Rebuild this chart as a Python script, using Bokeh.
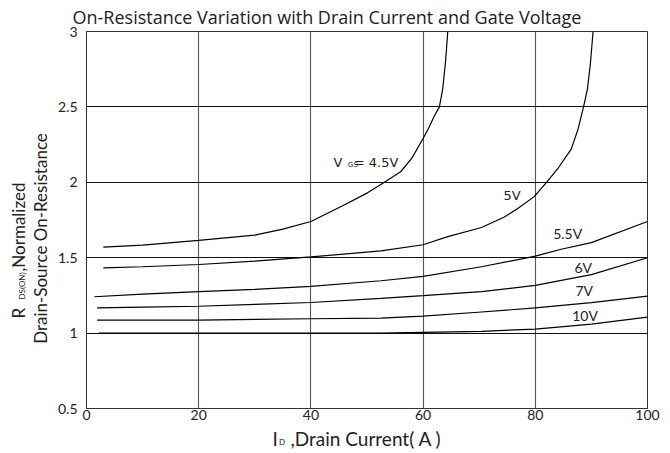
import math
from bokeh.plotting import figure
from bokeh.layouts import row, column
from bokeh.models import Label, FixedTicker, CustomJSTickFormatter, Range1d
from bokeh.embed import file_html
from bokeh.resources import INLINE

# ---- data ----
x_ticks = [0, 20, 40, 60, 80, 100]
y_ticks = [0.5, 1, 1.5, 2, 2.5, 3]

id_45 = [3, 10, 20, 30, 35, 40, 45.4, 50.1, 53.1, 56, 58, 60, 61, 62, 62.9, 63.5, 64.0, 64.4]
r_45 = [1.57, 1.583, 1.615, 1.65, 1.69, 1.74, 1.84, 1.93, 2.0, 2.07, 2.16, 2.29, 2.36, 2.44, 2.5, 2.62, 2.8, 3.0]

id_5 = [3, 10, 20, 30, 40, 52.5, 60, 64.4, 70.4, 74.5, 77, 79.8, 82, 84, 86.4, 87.6, 88.6, 89.3, 89.8, 90.3]
r_5 = [1.432, 1.44, 1.455, 1.477, 1.505, 1.545, 1.586, 1.64, 1.70, 1.77, 1.83, 1.905, 2.0, 2.09, 2.22, 2.35, 2.5, 2.62, 2.78, 3.0]

id_55 = [1.4, 10, 20, 30, 40, 52.5, 60, 70.4, 80, 84.6, 90, 100]
r_55 = [1.241, 1.258, 1.275, 1.29, 1.31, 1.347, 1.376, 1.44, 1.51, 1.556, 1.60, 1.74]

id_6 = [1.9, 10, 20, 30, 40, 52.5, 60, 70.4, 80, 90, 100]
r_6 = [1.167, 1.172, 1.178, 1.19, 1.203, 1.23, 1.248, 1.275, 1.316, 1.388, 1.5]

id_7 = [1.9, 20, 40, 52.5, 60, 70.4, 80, 90, 100]
r_7 = [1.086, 1.086, 1.095, 1.099, 1.113, 1.14, 1.167, 1.202, 1.245]

id_10 = [2.2, 20, 40, 52.5, 60, 70.4, 80, 90, 100]
r_10 = [1.0, 1.0, 1.0, 1.0, 1.005, 1.012, 1.027, 1.06, 1.106]

series_x = [id_45, id_5, id_55, id_6, id_7, id_10]
series_y = [r_45, r_5, r_55, r_6, r_7, r_10]

title_text = "On-Resistance Variation with Drain Current and Gate Voltage"

TXT = "#222222"

# ---- main figure ----
p = figure(width=610, height=426,
           x_range=Range1d(0, 100), y_range=Range1d(0.5, 3),
           output_backend="svg", toolbar_location=None,
           min_border_left=34, min_border_right=15,
           min_border_top=31, min_border_bottom=18)
p.background_fill_color = "white"
p.border_fill_color = "white"
p.outline_line_color = "#333333"
p.outline_line_width = 1

p.title.text = title_text
p.title.text_font = "Open Sans"
p.title.text_font_size = "18px"
p.title.text_font_style = "normal"
p.title.text_color = TXT
p.title.align = "left"
p.title.offset = -14
p.title.standoff = 2
p.title.vertical_align = "top"

p.xaxis.ticker = FixedTicker(ticks=x_ticks)
p.yaxis.ticker = FixedTicker(ticks=y_ticks)
p.yaxis.formatter = CustomJSTickFormatter(code="return String(tick)")
p.xaxis.formatter = CustomJSTickFormatter(code="return String(tick)")
for ax in (p.xaxis, p.yaxis):
    ax.major_tick_line_color = None
    ax.minor_tick_line_color = None
    ax.major_tick_out = 0
    ax.major_tick_in = 0
    ax.minor_tick_out = 0
    ax.minor_tick_in = 0
    ax.axis_line_color = "#333333"
    ax.major_label_text_font = "Lato"
    ax.major_label_text_font_size = "14px"
    ax.major_label_text_color = TXT
p.xaxis.major_label_standoff = 1
p.yaxis.major_label_standoff = 9

p.xgrid.grid_line_color = "#555555"
p.xgrid.grid_line_width = 1.1
p.ygrid.grid_line_color = "#111111"
p.ygrid.grid_line_width = 1

for xs, ys in zip(series_x, series_y):
    p.line(xs, ys, line_color="black", line_width=1.2)

def lab(fig, x, y, text, font="Lato", size="14px", align="left", baseline="middle", angle=0.0):
    fig.add_layout(Label(x=x, y=y, x_units="screen", y_units="screen", text=text,
                         text_font=font, text_font_size=size, text_align=align,
                         text_baseline=baseline, angle=angle, text_color=TXT))

# curve labels
lab(p, 247, 246.3, "V", font="DejaVu Sans", size="13px")
lab(p, 261.5, 243.5, "GS", font="DejaVu Sans", size="7px")
lab(p, 267.3, 246.3, "= 4.5V", font="DejaVu Sans", size="13px")
lab(p, 417, 213, "5V", font="DejaVu Sans", size="13px")
lab(p, 466.7, 175, "5.5V")
lab(p, 488, 141.3, "6V")
lab(p, 489, 118, "7V")
lab(p, 485.7, 93, "10V")

def blank(w, h):
    f = figure(width=w, height=h, x_range=Range1d(0, 1), y_range=Range1d(0, 1),
               output_backend="svg", toolbar_location=None,
               x_axis_type=None, y_axis_type=None, min_border=0)
    f.grid.visible = False
    f.outline_line_color = None
    f.background_fill_color = "white"
    f.border_fill_color = "white"
    return f

# y axis label panel
yf = blank(52, 453)
rot = math.pi / 2
lab(yf, 17.5, 135, "R", size="17px", angle=rot)
lab(yf, 21, 154, "DS(ON)", size="8px", angle=rot)
lab(yf, 17.5, 182, " ,Normalized", size="17px", angle=rot)
lab(yf, 40, 215, "Drain-Source On-Resistance", size="17px", align="center", angle=rot)

# x axis label panel (its frame lines up with the main frame)
xf = blank(610, 27)
lab(xf, 186, 15, "I", size="19px")
lab(xf, 192.5, 12, "D", size="8px")
lab(xf, 204, 15, ",Drain Current( A )", size="19px")

layout = row(yf, column(p, xf, spacing=0), spacing=0)

open("out.html", "w").write(file_html(layout, INLINE))
